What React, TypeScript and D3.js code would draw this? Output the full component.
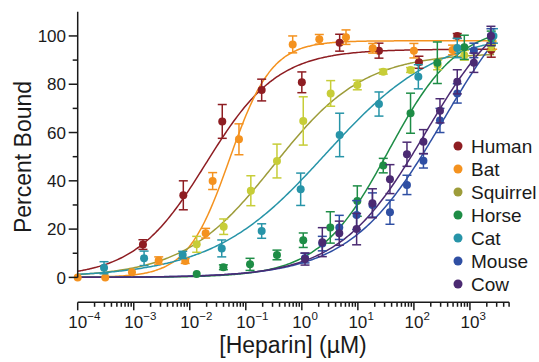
import React from 'react';
import * as d3 from 'd3';

const species = ['Human', 'Bat', 'Squirrel', 'Horse', 'Cat', 'Mouse', 'Cow'];
const pointColors = ['#8e1d22', '#f4921f', '#c7cd38', '#1e8d46', '#2794a8', '#2f4fa3', '#4b2a72'];
const lineColors = ['#8e1d22', '#f4921f', '#9d9c3a', '#1e8d46', '#2794a8', '#2f4fa3', '#4b2a72'];

// concentrations (µM), percent bound, error
const humanX = [0.00146, 0.00767, 0.038, 0.192, 1.0, 4.73, 23.8, 123, 594, 2400];
const humanY = [13.6, 34, 64.6, 77.6, 80.8, 97.2, 93.9, 89.1, 100, 94.2];
const humanE = [2, 6, 7, 4.5, 4.3, 3.5, 3.1, 2.5, 1, 3];

const batX = [0.0001, 0.00031, 0.00093, 0.00279, 0.0083, 0.0192, 0.0256, 0.0755, 0.687, 2.05, 6.14, 18.4, 100, 490, 2540];
const batY = [0, 0, 2.1, 7, 6.8, 18.3, 39.9, 57.2, 96.5, 98.6, 99.5, 94.9, 93.9, 94.2, 97.5];
const batE = [0, 0, 0.5, 1.5, 1, 2, 3.5, 6.4, 3.5, 2, 3, 2, 3, 2, 3];

const squirrelX = [0.0133, 0.0403, 0.123, 0.36, 1.06, 3.27, 9.77, 28.4, 87.1, 265, 794, 2400];
const squirrelY = [13.7, 21, 35.9, 48.2, 64.8, 76.2, 79.7, 85.2, 85.9, 88, 92, 96];
const squirrelE = [3.3, 3.2, 6.2, 7, 10, 5.3, 2, 1, 1, 2, 2, 2];

const horseX = [0.0133, 0.0398, 0.119, 0.36, 1.06, 3.22, 9.77, 28.4, 87.1, 262, 794, 2400];
const horseY = [1.4, 4.2, 5.4, 9.3, 15.4, 20.7, 31.6, 46.3, 68, 88.9, 95.3, 99];
const horseE = [0.5, 1, 2.5, 2, 3, 6.5, 6.3, 3, 8.3, 8.6, 5, 3];

const catX = [0.000295, 0.00153, 0.00748, 0.0372, 0.192, 0.953, 4.73, 23.8, 120, 594, 2630];
const catY = [4, 7.9, 9.3, 12, 19.2, 36.5, 59, 71.8, 83.1, 95, 100];
const catE = [2.5, 3, 1.5, 3.5, 3, 6.7, 9, 5, 5, 4, 3];

const mouseX = [1.14, 2.32, 4.66, 9.5, 18.2, 37.4, 75.2, 148, 292, 594, 1175, 2370];
const mouseY = [8, 14, 20.7, 25.8, 30, 27, 38.3, 48.3, 65, 76.2, 94, 100];
const mouseE = [2, 3, 5, 6, 5, 5, 4, 3, 5, 4, 3, 3];

const cowX = [1.14, 2.32, 4.66, 9.5, 18.2, 37.4, 75.2, 148, 292, 594, 1175, 2370];
const cowY = [7.6, 14.6, 18.3, 20, 30.7, 40.7, 51, 56.2, 69, 81, 88.9, 100];
const cowE = [2.5, 6, 5, 6.5, 6, 6, 5, 5, 5, 5, 4, 4];

// Hill fit parameters
const fitTop = [94.5, 98, 93, 105, 102, 130, 120];
const fitLogEC50 = [-1.71, -1.29, -0.5, 1.55, 0.42, 2.52, 2.21];
const fitHill = [0.68, 1.15, 0.54, 0.7, 0.43, 0.523, 0.562];

const yTicks = [0, 20, 40, 60, 80, 100];
const xExponents = [-4, -3, -2, -1, 0, 1, 2, 3];

const seriesX = [humanX, batX, squirrelX, horseX, catX, mouseX, cowX];
const seriesY = [humanY, batY, squirrelY, horseY, catY, mouseY, cowY];
const seriesE = [humanE, batE, squirrelE, horseE, catE, mouseE, cowE];

const W = 539;
const H = 362;
const FONT = 'Liberation Sans, Arial, Helvetica, sans-serif';

export default function App() {
  const x = d3.scaleLog().domain([1e-4, 5000]).range([77.7, 509.1]);
  const y = d3.scaleLinear().domain([0, 110]).range([277.4, 11.8]);
  const xAxisY = 302.3;

  const minorTicks: number[] = [];
  for (let e = -4; e <= 3; e++) {
    for (let m = 2; m <= 9; m++) {
      const v = m * Math.pow(10, e);
      if (v <= 5000) minorTicks.push(v);
    }
  }
  const yMinor = [10, 30, 50, 70, 90];

  const curveStart = Math.log10(1e-4);
  const curveEnd = Math.log10(2700);
  const samples = d3.range(0, 241).map((i) => curveStart + (i / 240) * (curveEnd - curveStart));
  const line = d3
    .line<[number, number]>()
    .x((d) => x(Math.pow(10, d[0])))
    .y((d) => y(d[1]))
    .curve(d3.curveMonotoneX);

  const curves = species.map((_, i) =>
    line(samples.map((lx) => [lx, fitTop[i] / (1 + Math.pow(10, (fitLogEC50[i] - lx) * fitHill[i]))] as [number, number]))
  );

  return (
    <svg width={W} height={H} style={{ position: 'absolute', left: 0, top: 0, background: '#fff' }} fontFamily={FONT}>
      {/* curves */}
      {curves.map((d, i) => (
        <path key={'c' + i} d={d || ''} fill="none" stroke={lineColors[i]} strokeWidth={1.5} />
      ))}
      {/* points with error bars */}
      {species.map((s, i) => (
        <g key={'s' + i}>
          {seriesX[i].map((xv, j) => {
            const cx = x(xv);
            const cy = y(seriesY[i][j]);
            const e = seriesE[i][j];
            const y1 = y(seriesY[i][j] + e);
            const y2 = y(seriesY[i][j] - e);
            return (
              <g key={j}>
                {e > 0.8 && (
                  <g stroke={pointColors[i]} strokeWidth={1.5} fill="none">
                    <line x1={cx} x2={cx} y1={y1} y2={y2} />
                    <line x1={cx - 4.5} x2={cx + 4.5} y1={y1} y2={y1} />
                    <line x1={cx - 4.5} x2={cx + 4.5} y1={y2} y2={y2} />
                  </g>
                )}
                <circle cx={cx} cy={cy} r={4} fill={pointColors[i]} />
              </g>
            );
          })}
        </g>
      ))}
      {/* y axis */}
      <g stroke="#1a1a1a" strokeWidth={1.5}>
        <line x1={x(1e-4)} x2={x(1e-4)} y1={y(0)} y2={y(110)} />
        {yTicks.map((t) => (
          <line key={'yt' + t} x1={x(1e-4) - 9} x2={x(1e-4)} y1={y(t)} y2={y(t)} />
        ))}
        {yMinor.map((t) => (
          <line key={'ym' + t} x1={x(1e-4) - 5} x2={x(1e-4)} y1={y(t)} y2={y(t)} />
        ))}
      </g>
      {yTicks.map((t) => (
        <text key={'yl' + t} x={66} y={y(t)} dy="0.36em" textAnchor="end" fontSize={17} fill="#1a1a1a">
          {t}
        </text>
      ))}
      <text
        transform={`translate(31,157) rotate(-90)`}
        textAnchor="middle"
        fontSize={23}
        fill="#1a1a1a"
      >
        Percent Bound
      </text>
      {/* x axis */}
      <g stroke="#1a1a1a" strokeWidth={1.5}>
        <line x1={x(1e-4)} x2={x(5000)} y1={xAxisY} y2={xAxisY} />
        {xExponents.map((e) => (
          <line key={'xt' + e} x1={x(Math.pow(10, e))} x2={x(Math.pow(10, e))} y1={xAxisY} y2={xAxisY + 8} />
        ))}
        {minorTicks.map((v, k) => (
          <line key={'xm' + k} x1={x(v)} x2={x(v)} y1={xAxisY} y2={xAxisY + 4.5} />
        ))}
      </g>
      {xExponents.map((e) => {
        const px = x(Math.pow(10, e));
        return (
          <g key={'xl' + e} fill="#1a1a1a">
            <text x={px} y={328} textAnchor="middle" fontSize={17}>
              10
            </text>
            <text x={px + 9.6} y={320} textAnchor="start" fontSize={11.5}>
              {e < 0 ? '\u2212' + Math.abs(e) : String(e)}
            </text>
          </g>
        );
      })}
      <text x={293} y={353} textAnchor="middle" fontSize={23} fill="#1a1a1a">
        [Heparin] (µM)
      </text>
      {/* legend */}
      {species.map((s, i) => (
        <g key={'lg' + i}>
          <circle cx={458} cy={146 + 23 * i} r={4.5} fill={lineColors[i]} />
          <text x={471} y={146 + 23 * i} dy="0.36em" fontSize={19} fill="#1a1a1a">
            {s}
          </text>
        </g>
      ))}
    </svg>
  );
}
